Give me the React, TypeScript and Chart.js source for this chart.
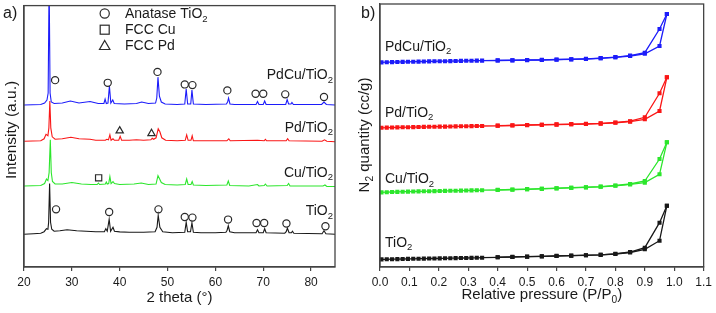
import React, { useEffect, useRef } from 'react';
import { Chart, registerables } from 'chart.js';

Chart.register(...registerables);

const FONT = '"Liberation Sans", Arial, Helvetica, sans-serif';
const AXIS = '#444444';
const TEXT = '#1a1a1a';

// ---------------- Panel a: XRD ----------------
const xrdTicks = [20, 30, 40, 50, 60, 70, 80];
const xrdLabels = ['PdCu/TiO{2}', 'Pd/TiO{2}', 'Cu/TiO{2}', 'TiO{2}'];
const xrdLegend = ['Anatase TiO{2}', 'FCC Cu', 'FCC Pd'];

const pdcuPattern: [number, number][] = [
  [20, 163], [23.5, 163.5], [24.3, 165], [24.8, 168], [25.05, 175], [25.25, 290], [25.45, 175], [25.7, 166],
  [26.3, 164.5], [28, 165], [29.7, 167], [31.5, 165], [33.8, 166.5], [35.5, 164.5], [36.7, 164.5], [36.95, 169],
  [37.2, 164.5], [37.55, 165], [37.85, 182], [38.15, 165], [38.55, 168], [38.85, 164.5], [41, 164], [43.5, 164.5],
  [44.6, 166], [46, 164.5], [47.5, 165], [47.75, 170], [48.0, 191], [48.3, 172], [48.7, 166], [49.5, 164],
  [52, 163.5], [53.6, 164], [53.9, 179], [54.2, 164], [54.85, 164], [55.1, 178], [55.4, 164], [58, 163.5],
  [62.3, 164], [62.55, 166], [62.75, 170], [63.05, 164], [64, 163.5], [68.5, 163.5], [68.8, 166.5], [69.1, 163.5],
  [70.0, 163.5], [70.3, 167], [70.6, 163.5], [74.7, 163.5], [75.0, 168.5], [75.3, 164], [75.8, 164], [76.0, 165.5],
  [76.3, 163.5], [82.2, 163.5], [82.7, 166], [83.2, 163.5], [85, 163],
];

const pdPattern: [number, number][] = [
  [20, 126.5], [23.5, 127], [24.2, 129], [24.6, 133.5], [25.0, 132], [25.2, 140], [25.4, 167], [25.6, 140],
  [25.9, 131], [26.5, 128.5], [28, 129], [29.8, 130.5], [31.5, 129], [33.8, 128.5], [35, 127.5], [37.0, 127.5],
  [37.3, 128.5], [37.65, 128], [37.95, 133], [38.2, 127.5], [38.6, 129], [38.9, 127.5], [39.8, 127.5], [40.1, 131.5],
  [40.4, 127.5], [42, 127.5], [43.5, 128], [45, 127.5], [46.5, 128], [46.8, 129.5], [47.1, 128.5], [47.6, 130],
  [48.05, 139], [48.4, 136], [48.8, 130], [49.6, 127.5], [52, 127], [53.7, 127.5], [54.0, 133], [54.3, 127.5],
  [54.9, 127.5], [55.15, 132], [55.4, 127], [58, 127], [62.4, 127], [62.8, 129], [63.1, 127], [68.8, 127.5],
  [70.2, 127], [70.45, 128.5], [70.7, 127], [74.8, 127], [75.1, 129], [75.4, 127], [82.3, 126.5], [82.8, 128],
  [83.3, 126.5], [85, 126],
];

const cuPattern: [number, number][] = [
  [20, 81.5], [23.5, 82], [24.3, 84], [24.7, 88.5], [25.0, 87], [25.25, 95], [25.5, 128], [25.7, 95],
  [25.95, 86], [26.5, 83.5], [28, 83.5], [30, 85], [32, 83.5], [34, 83], [35.3, 83], [35.55, 84.5],
  [35.8, 83], [37.0, 83.5], [37.2, 85.5], [37.4, 83.5], [37.7, 84], [37.95, 91], [38.2, 84], [38.6, 86],
  [38.9, 84], [40, 83], [43, 83.5], [44.5, 84.5], [46, 83], [47.6, 83.5], [48.0, 92], [48.3, 89],
  [48.7, 85], [49.5, 83], [52, 82.5], [53.7, 83], [54.0, 88.5], [54.3, 83], [54.9, 83], [55.15, 86],
  [55.4, 82.5], [58, 82], [62.4, 82.5], [62.7, 86.5], [63.0, 82], [67, 81.5], [68.8, 83], [69.1, 81.5],
  [70.2, 82], [70.45, 83.5], [70.8, 81.5], [75.0, 82], [75.3, 84], [75.6, 81.5], [82.5, 81.5], [82.9, 82.5],
  [83.3, 81], [85, 81],
];

const tio2Pattern: [number, number][] = [
  [20, 33], [22, 33.5], [23.5, 34], [24.2, 35.5], [24.7, 38.5], [25.0, 38], [25.15, 45], [25.35, 84],
  [25.55, 45], [25.8, 38], [26.3, 36], [27.5, 36.5], [29.0, 37.5], [31, 36.5], [33, 36], [35, 35.5],
  [36.8, 35.5], [37.1, 38.5], [37.4, 36], [37.8, 48], [38.1, 36], [38.6, 40], [38.9, 36], [40, 35.3],
  [42, 35], [45, 35], [47.4, 35.5], [47.8, 40], [48.05, 52], [48.4, 40], [49, 35.5], [51, 34.5],
  [53.6, 35], [53.9, 45], [54.2, 35.5], [54.8, 35.5], [55.1, 44.5], [55.4, 35], [57, 34.5], [60, 34.5],
  [62.2, 35], [62.45, 37], [62.7, 41.5], [63.0, 35.5], [64, 34.5], [68.5, 34.5], [68.8, 37.5], [69.1, 34.5],
  [70.0, 34.5], [70.3, 38.5], [70.6, 34.5], [74.5, 34], [74.8, 35.5], [75.05, 39], [75.4, 34.5], [75.9, 34.5],
  [76.1, 36], [76.4, 34], [82.3, 33.5], [82.7, 36.5], [83.1, 33.5], [85, 33],
];

const anataseMarks: [number, number][] = [
  [26.5, 188], [37.5, 185.3], [47.9, 196.3], [53.6, 183.7], [55.2, 183], [62.5, 177.7], [68.4, 174.3], [70.0, 174.3], [74.6, 173.7], [82.7, 171],
  [26.7, 58], [37.8, 55.3], [48.1, 58], [53.6, 50.3], [55.2, 49.7], [62.65, 47.7], [68.6, 44.3], [70.2, 44.3], [74.85, 43.7], [83.0, 41],
];
const cuMarks: [number, number][] = [[35.6, 89.7]];
const pdMarks: [number, number][] = [[40.0, 137], [46.65, 134.3]];

// ---------------- Panel b: N2 isotherms ----------------
const bTicks = [0, 0.1, 0.2, 0.3, 0.4, 0.5, 0.6, 0.7, 0.8, 0.9, 1.0, 1.1];
const bLabels = ['PdCu/TiO{2}', 'Pd/TiO{2}', 'Cu/TiO{2}', 'TiO{2}'];

const adsP = [
  0.005, 0.023, 0.041, 0.059, 0.077, 0.095, 0.113, 0.131, 0.149, 0.167, 0.185, 0.203, 0.221, 0.239, 0.257, 0.275,
  0.293, 0.311, 0.329, 0.347, 0.40, 0.45, 0.50, 0.55, 0.60, 0.65, 0.70, 0.75, 0.80, 0.85, 0.90, 0.95, 0.975,
];
const desP = [0.975, 0.95, 0.90, 0.85, 0.80, 0.75, 0.70, 0.65, 0.60, 0.55, 0.50, 0.45, 0.40];

const tio2Ads = [
  7.6, 7.7, 7.8, 7.9, 8.0, 8.1, 8.2, 8.3, 8.4, 8.5, 8.5, 8.6, 8.7, 8.8, 8.9, 9.0,
  9.0, 9.1, 9.2, 9.3, 9.7, 10.0, 10.3, 10.6, 11.0, 11.3, 11.7, 12.1, 13.0, 14.5, 17.7, 26.3, 61.3,
];
const tio2Des = [61.3, 44.3, 19.3, 15.0, 13.2, 12.2, 11.8, 11.4, 11.1, 10.7, 10.4, 10.1, 9.8];

const cuAds = [
  74.6, 74.8, 75.0, 75.1, 75.3, 75.4, 75.5, 75.6, 75.7, 75.8, 75.9, 76.0, 76.1, 76.2, 76.3, 76.4,
  76.5, 76.6, 76.7, 76.8, 77.0, 77.3, 77.7, 78.1, 78.6, 79.1, 79.6, 80.2, 81.2, 82.6, 84.4, 92.7, 124.7,
];
const cuDes = [124.7, 108.0, 86.0, 83.0, 81.5, 80.4, 79.8, 79.3, 78.8, 78.3, 77.9, 77.5, 77.2];

const pdAds = [
  139.2, 139.4, 139.5, 139.6, 139.7, 139.8, 139.9, 140.0, 140.1, 140.2, 140.3, 140.4, 140.4, 140.5, 140.6, 140.7,
  140.8, 140.9, 141.0, 141.0, 141.2, 141.5, 141.8, 142.1, 142.4, 142.7, 143.0, 143.4, 144.2, 145.4, 147.7, 156.0, 189.7,
];
const pdDes = [189.7, 173.7, 149.7, 145.8, 144.5, 143.6, 143.2, 142.9, 142.6, 142.3, 142.0, 141.7, 141.4];

const pdcuAds = [
  204.6, 204.8, 204.9, 205.0, 205.1, 205.2, 205.3, 205.4, 205.5, 205.6, 205.7, 205.8, 205.8, 205.9, 206.0, 206.1,
  206.2, 206.3, 206.4, 206.4, 206.5, 206.6, 206.8, 207.0, 207.3, 207.6, 208.0, 208.7, 209.7, 211.0, 213.2, 221.0, 253.0,
];
const pdcuDes = [253.0, 238.0, 214.3, 211.4, 209.9, 208.9, 208.2, 207.8, 207.5, 207.2, 207.0, 206.8, 206.6];

const BLUE = 'rgb(28,28,250)';
const RED = 'rgb(250,22,22)';
const GREEN = 'rgb(44,230,44)';
const BLACK = 'rgb(24,24,24)';

// ---------------- helpers ----------------
function parseRich(s: string): Array<[string, boolean]> {
  const out: Array<[string, boolean]> = [];
  const re = /\{([^}]*)\}/g;
  let last = 0;
  let m: RegExpExecArray | null;
  while ((m = re.exec(s))) {
    if (m.index > last) out.push([s.slice(last, m.index), false]);
    out.push([m[1], true]);
    last = m.index + m[0].length;
  }
  if (last < s.length) out.push([s.slice(last), false]);
  return out;
}

function drawRich(
  ctx: CanvasRenderingContext2D, text: string, x: number, y: number, size: number,
  align: 'left' | 'right' | 'center', rotate = false, color = TEXT,
) {
  const segs = parseRich(text);
  const sub = size * 0.68;
  ctx.save();
  ctx.fillStyle = color;
  ctx.textBaseline = 'alphabetic';
  ctx.textAlign = 'left';
  const widths = segs.map(([t, s]) => {
    ctx.font = `${s ? sub : size}px ${FONT}`;
    return ctx.measureText(t).width;
  });
  const total = widths.reduce((a, b) => a + b, 0);
  let cx = align === 'left' ? 0 : align === 'right' ? -total : -total / 2;
  ctx.translate(x, y);
  if (rotate) ctx.rotate(-Math.PI / 2);
  segs.forEach(([t, s], i) => {
    ctx.font = `${s ? sub : size}px ${FONT}`;
    ctx.fillText(t, cx, s ? size * 0.28 : 0);
    cx += widths[i];
  });
  ctx.restore();
}

function frame(chart: any) {
  const { ctx, chartArea: a } = chart;
  ctx.save();
  ctx.strokeStyle = AXIS;
  ctx.lineWidth = 1.3;
  ctx.strokeRect(a.left, a.top, a.right - a.left, a.bottom - a.top);
  ctx.restore();
}

const pts = (arr: [number, number][]) => arr.map(([x, y]) => ({ x, y }));
const zip = (xs: number[], ys: number[]) => xs.map((x, i) => ({ x, y: ys[i] }));

const xTicksCommon = (values: number[], fmt: (v: number) => string) => ({
  type: 'linear' as const,
  afterBuildTicks: (s: any) => { s.ticks = values.map((v) => ({ value: v })); },
  afterFit: (s: any) => { s.height = 46; },
  ticks: {
    font: { family: FONT, size: 12 }, color: TEXT, padding: 4, maxRotation: 0, autoSkip: false,
    callback: (v: any) => fmt(Number(v)),
  },
  grid: { display: true, drawOnChartArea: false, drawTicks: true, tickLength: 4, color: AXIS, lineWidth: 1.2 },
  border: { display: true, color: AXIS, width: 1.3 },
});

const yHidden = (w: number) => ({
  type: 'linear' as const, min: 0, max: 263,
  afterFit: (s: any) => { s.width = w; },
  ticks: { display: false }, grid: { display: false },
  border: { display: true, color: AXIS, width: 1.3 },
});

function configA(): any {
  const line = (data: [number, number][], color: string) => ({
    data: pts(data), showLine: true, borderColor: color, borderWidth: 1.1, pointRadius: 0, tension: 0,
  });
  const mark = (data: [number, number][], style: string, r: number) => ({
    data: pts(data), showLine: false, pointStyle: style, pointRadius: r, pointBorderWidth: 1.2,
    pointBorderColor: '#2a2a2a', pointBackgroundColor: 'rgba(255,255,255,0)',
  });
  return {
    type: 'scatter',
    data: {
      datasets: [
        mark(anataseMarks, 'circle', 3.6), mark(cuMarks, 'rect', 4.4), mark(pdMarks, 'triangle', 4.2),
        line(pdcuPattern, BLUE), line(pdPattern, RED), line(cuPattern, GREEN), line(tio2Pattern, BLACK),
      ],
    },
    options: {
      responsive: false, animation: false, events: [],
      layout: { padding: { top: 4, right: 15, bottom: 0, left: 0 } },
      plugins: { legend: { display: false }, tooltip: { enabled: false } },
      scales: {
        x: { ...xTicksCommon(xrdTicks, (v) => String(v)), min: 20, max: 85 },
        y: yHidden(24),
      },
    },
    plugins: [{
      id: 'decorA',
      afterDraw(chart: any) {
        frame(chart);
        const { ctx, chartArea: a } = chart;
        const yb = [79, 131.5, 176.5, 215];
        xrdLabels.forEach((t, i) => drawRich(ctx, t, a.right - 2, yb[i], 14, 'right'));
        // legend
        ctx.save();
        ctx.strokeStyle = '#2a2a2a'; ctx.lineWidth = 1.2;
        ctx.beginPath(); ctx.arc(104.7, 13.5, 4.6, 0, Math.PI * 2); ctx.stroke();
        ctx.strokeRect(100.2, 25.2, 9, 9);
        ctx.beginPath(); ctx.moveTo(104.7, 40.5); ctx.lineTo(109.9, 49.5); ctx.lineTo(99.5, 49.5); ctx.closePath(); ctx.stroke();
        ctx.restore();
        const lb = [17.8, 34.3, 50.3];
        xrdLegend.forEach((t, i) => drawRich(ctx, t, 125, lb[i], 14, 'left'));
        drawRich(ctx, 'a)', 3, 17.5, 16, 'left');
        drawRich(ctx, 'Intensity (a.u.)', 16, 130, 15.5, 'center', true);
        drawRich(ctx, '2 theta (°)', (a.left + a.right) / 2, 301.5, 15, 'center');
      },
    }],
  };
}

function configB(): any {
  const iso = (xs: number[], ys: number[], color: string) => ({
    data: zip(xs, ys), showLine: true, borderColor: color, backgroundColor: color, borderWidth: 1.3,
    pointStyle: 'rect', pointRadius: 2.9, pointBorderWidth: 0, pointBackgroundColor: color, tension: 0,
  });
  return {
    type: 'scatter',
    data: {
      datasets: [
        iso(adsP, pdcuAds, BLUE), iso(desP, pdcuDes, BLUE),
        iso(adsP, pdAds, RED), iso(desP, pdDes, RED),
        iso(adsP, cuAds, GREEN), iso(desP, cuDes, GREEN),
        iso(adsP, tio2Ads, BLACK), iso(desP, tio2Des, BLACK),
      ],
    },
    options: {
      responsive: false, animation: false, events: [],
      layout: { padding: { top: 4, right: 10, bottom: 0, left: 0 } },
      plugins: { legend: { display: false }, tooltip: { enabled: false } },
      scales: {
        x: { ...xTicksCommon(bTicks, (v) => v.toFixed(1)), min: 0, max: 1.1 },
        y: yHidden(25),
      },
    },
    plugins: [{
      id: 'decorB',
      afterDraw(chart: any) {
        frame(chart);
        const { ctx, chartArea: a } = chart;
        const yb = [50.5, 116.5, 183, 246.5];
        bLabels.forEach((t, i) => drawRich(ctx, t, a.left + 5, yb[i], 14, 'left'));
        drawRich(ctx, 'b)', 6, 17.5, 16, 'left');
        drawRich(ctx, 'N{2} quantity (cc/g)', 13.5, 135, 15, 'center', true);
        drawRich(ctx, 'Relative pressure (P/P{0})', (a.left + a.right) / 2, 298.5, 15, 'center');
      },
    }],
  };
}

export default function App() {
  const refA = useRef<HTMLCanvasElement>(null);
  const refB = useRef<HTMLCanvasElement>(null);
  useEffect(() => {
    const a = new Chart(refA.current as HTMLCanvasElement, configA());
    const b = new Chart(refB.current as HTMLCanvasElement, configB());
    return () => { a.destroy(); b.destroy(); };
  }, []);
  return (
    <div style={{ position: 'absolute', left: 0, top: 0, width: 716, height: 313, background: '#fff' }}>
      <canvas ref={refA} width={350} height={313} style={{ position: 'absolute', left: 0, top: 0 }} />
      <canvas ref={refB} width={361} height={313} style={{ position: 'absolute', left: 355, top: 0 }} />
    </div>
  );
}
